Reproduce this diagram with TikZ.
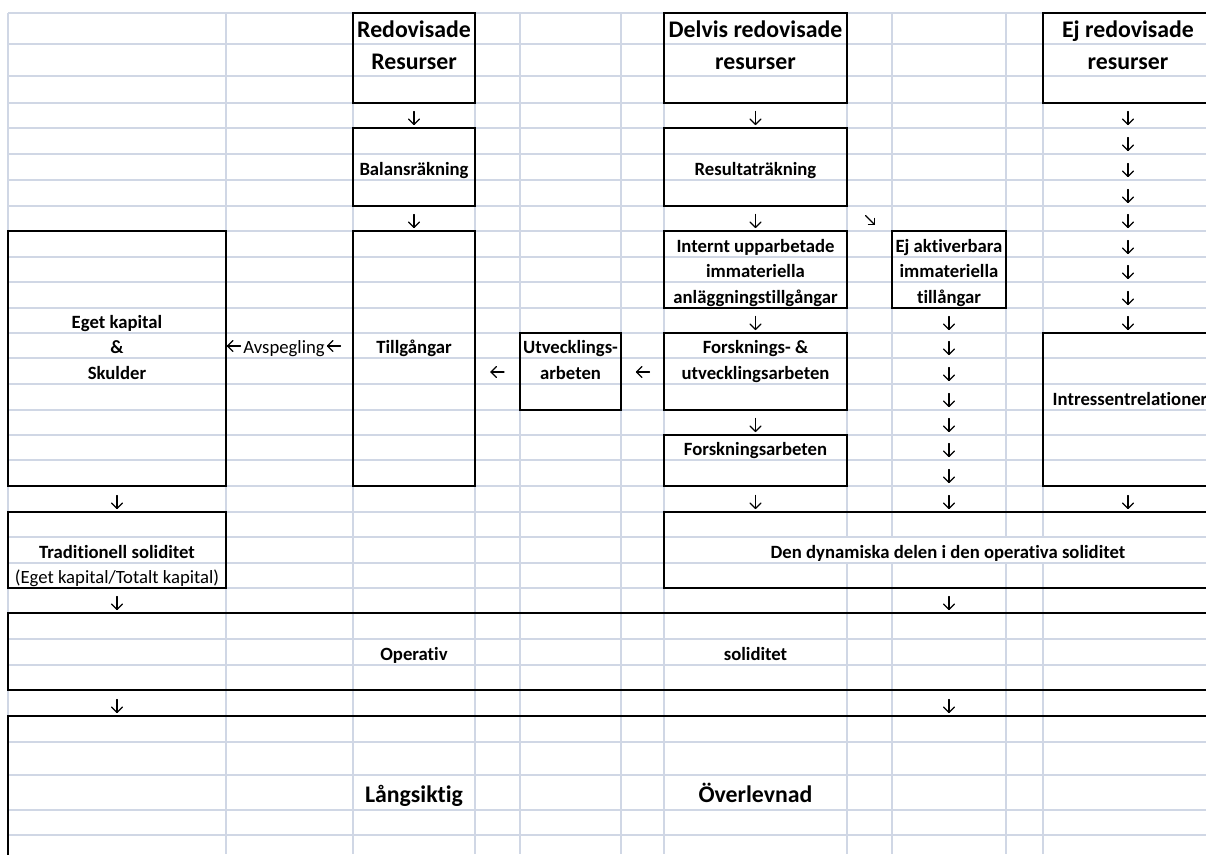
\documentclass[tikz,border=0pt]{standalone}
\usepackage{fontspec}
\setmainfont{Carlito}[RawFeature={-liga}]
\usetikzlibrary{fit}
\definecolor{gridc}{HTML}{D0D7E5}
\tikzset{
  gridln/.style={draw=gridc, line width=1.3pt},
  box/.style={draw=black, line width=2.4pt, inner sep=0pt},
  sm/.style={font=\bfseries\fontsize{18.7}{22}\selectfont, inner sep=0pt, anchor=base},
  smr/.style={font=\fontsize{18.7}{22}\selectfont, inner sep=0pt, anchor=base},
  big/.style={font=\bfseries\fontsize{23.8}{28}\selectfont, inner sep=0pt, anchor=base},
  glyph/.style={draw=black, line width=1.2pt, line cap=round, line join=round},
  dn/.pic={\draw[glyph] (0,-6.5) -- (0,6.5); \draw[glyph] (-5.5,1) -- (0,6.5) -- (5.5,1);},
  lf/.pic={\draw[glyph] (-6.5,0) -- (6.5,0); \draw[glyph] (-1,-5.5) -- (-6.5,0) -- (-1,5.5);},
  dr/.pic={\draw[glyph] (-4.5,-4.5) -- (4.5,4.5); \draw[glyph] (4.5,-1.5) -- (4.5,4.5) -- (-1.5,4.5);},
}
\begin{document}
\begin{tikzpicture}[x=1pt,y=-1pt]
\useasboundingbox (0,0) rectangle (1206,854);
\clip (0,0) rectangle (1206,854);
% spreadsheet grid
\foreach \y in {13,44,76,103,128,154,180,206,231,257,282,308,333,358,384,410,435,460,486,512,537,563,588,613,639,665,690,716,742,775,810,835}
  \draw[gridln] (8,\y) -- (1206,\y);
\foreach \x in {8,226,353,475,520,621,664}
  \draw[gridln] (\x,13) -- (\x,854);
\foreach \x in {847,892,1006,1043}
  {\draw[gridln] (\x,13) -- (\x,537); \draw[gridln] (\x,563) -- (\x,854);}
% boxes
\node[box, fit={(353,13) (475,103)}] (bRed) {};
\node[box, fit={(353,128) (475,206)}] (bBal) {};
\node[box, fit={(353,231) (475,486)}] (bTill) {};
\node[box, fit={(8,231) (226,486)}] (bEget) {};
\node[box, fit={(8,512) (226,588)}] (bTrad) {};
\node[box, fit={(664,13) (847,103)}] (bDelv) {};
\node[box, fit={(664,128) (847,206)}] (bRes) {};
\node[box, fit={(664,231) (847,308)}] (bInt) {};
\node[box, fit={(664,333) (847,410)}] (bFoU) {};
\node[box, fit={(664,435) (847,486)}] (bFors) {};
\node[box, fit={(520,333) (621,410)}] (bUtv) {};
\node[box, fit={(892,231) (1006,308)}] (bEjAkt) {};
\node[box, fit={(1043,13) (1230,103)}] (bEjRed) {};
\node[box, fit={(1043,333) (1230,486)}] (bIntr) {};
\node[box, fit={(664,512) (1230,588)}] (bDyn) {};
\node[box, fit={(8,613) (1230,690)}] (bOper) {};
\node[box, fit={(8,716) (1230,880)}] (bLang) {};
% texts
\node[big] (tRed1) at (414,37) {Redovisade};
\node[big] (tRed2) at (414,69) {Resurser};
\node[big] (tDel1) at (755.5,37) {Delvis redovisade};
\node[big] (tDel2) at (755.5,69) {resurser};
\node[big] (tEj1) at (1128,37) {Ej redovisade};
\node[big] (tEj2) at (1128,69) {resurser};
\node[sm] (tBal) at (414,175) {Balansräkning};
\node[sm] (tRes) at (755.5,175) {Resultaträkning};
\node[sm] (tInt1) at (755.5,252) {Internt upparbetade};
\node[sm] (tInt2) at (755.5,277) {immateriella};
\node[sm] (tInt3) at (755.5,303) {anläggningstillgångar};
\node[sm] (tEjA1) at (949,252) {Ej aktiverbara};
\node[sm] (tEjA2) at (949,277) {immateriella};
\node[sm] (tEjA3) at (949,303) {tillångar};
\node[sm] (tEg1) at (117,328) {Eget kapital};
\node[sm] (tEg2) at (117,353) {\&};
\node[sm] (tEg3) at (117,379) {Skulder};
\node[smr] (tAvs) at (284,353) {Avspegling};
\pic at (234,346) {lf};
\pic at (334,346) {lf};
\node[sm] (tTill) at (414,353) {Tillgångar};
\node[sm] (tUtv1) at (570.5,353) {Utvecklings-};
\node[sm] (tUtv2) at (570.5,379) {arbeten};
\node[sm] (tFoU1) at (755.5,353) {Forsknings- \&};
\node[sm] (tFoU2) at (755.5,379) {utvecklingsarbeten};
\node[sm] (tFors) at (755.5,455) {Forskningsarbeten};
\node[sm] (tIntr) at (1130,405) {Intressentrelationer};
\node[sm] (tTrad1) at (117,558) {Traditionell soliditet};
\node[smr] (tTrad2) at (117,583) {(Eget kapital/Totalt kapital)};
\node[sm] (tDyn) at (948,558) {Den dynamiska delen i den operativa soliditet};
\node[sm] (tOp1) at (414,660) {Operativ};
\node[sm] (tOp2) at (755.5,660) {soliditet};
\node[big] (tLang) at (414,802) {Långsiktig};
\node[big] (tOver) at (755.5,802) {Överlevnad};
% arrow glyphs
\foreach \y in {118,221} \pic at (414,\y) {dn};
\foreach \y in {118,221,323,425,502} \pic at (755.5,\y) {dn};
\pic at (870,220) {dr};
\foreach \y in {323,348,374,400,425,450,476,502,603,706} \pic at (949,\y) {dn};
\foreach \y in {118,144,170,196,221,247,272,298,323,502} \pic at (1128,\y) {dn};
\foreach \y in {502,603,706} \pic at (117,\y) {dn};
\pic at (497.5,372) {lf};
\pic at (643,372) {lf};
\end{tikzpicture}
\end{document}
